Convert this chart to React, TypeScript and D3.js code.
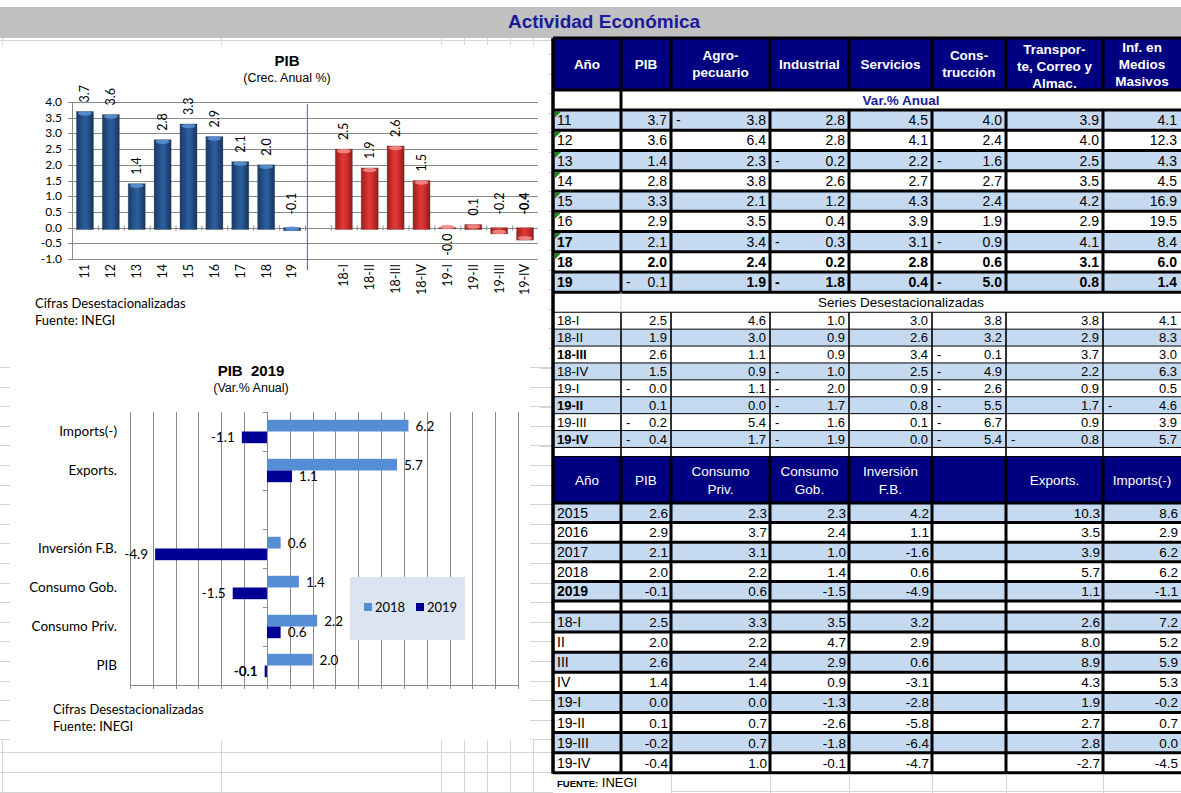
import React from 'react';
import * as d3 from 'd3';

// ---------------- DATA ----------------
const annualYears = ['11', '12', '13', '14', '15', '16', '17', '18', '19'];
const annualPIB = [3.7, 3.6, 1.4, 2.8, 3.3, 2.9, 2.1, 2.0, -0.1];
const quarterLabels = ['18-I', '18-II', '18-III', '18-IV', '19-I', '19-II', '19-III', '19-IV'];
const quarterPIB = [2.5, 1.9, 2.6, 1.5, -0.04, 0.1, -0.2, -0.4];

const compCategories = ['Imports(-)', 'Exports.', ' ', 'Inversión F.B.', 'Consumo Gob.', 'Consumo Priv.', 'PIB'];
const comp2018: (number | null)[] = [6.2, 5.7, null, 0.6, 1.4, 2.2, 2.0];
const comp2019: (number | null)[] = [-1.1, 1.1, null, -4.9, -1.5, 0.6, -0.1];
const compTicks = [-6, -5, -4, -3, -2, -1, 0, 1, 2, 3, 4, 5, 6, 7, 8, 9, 10, 11];
const pibTicks = [-1.0, -0.5, 0.0, 0.5, 1.0, 1.5, 2.0, 2.5, 3.0, 3.5, 4.0];

const sectorHeaders = [['Año'], ['PIB'], ['Agro-', 'pecuario'], ['Industrial'], ['Servicios'], ['Cons-', 'trucción'], ['Transpor-', 'te, Correo y', 'Almac.'], ['Inf. en', 'Medios', 'Masivos']];
const sectorYears = ['11', '12', '13', '14', '15', '16', '17', '18', '19'];
const sectorAnnual = [
  [3.7, -3.8, 2.8, 4.5, 4.0, 3.9, 4.1],
  [3.6, 6.4, 2.8, 4.1, 2.4, 4.0, 12.3],
  [1.4, 2.3, -0.2, 2.2, -1.6, 2.5, 4.3],
  [2.8, 3.8, 2.6, 2.7, 2.7, 3.5, 4.5],
  [3.3, 2.1, 1.2, 4.3, 2.4, 4.2, 16.9],
  [2.9, 3.5, 0.4, 3.9, 1.9, 2.9, 19.5],
  [2.1, 3.4, -0.3, 3.1, -0.9, 4.1, 8.4],
  [2.0, 2.4, 0.2, 2.8, 0.6, 3.1, 6.0],
  [-0.1, 1.9, -1.8, 0.4, -5.0, 0.8, 1.4],
];
const sectorQuarters = ['18-I', '18-II', '18-III', '18-IV', '19-I', '19-II', '19-III', '19-IV'];
const sectorQuarterly = [
  [2.5, 4.6, 1.0, 3.0, 3.8, 3.8, 4.1],
  [1.9, 3.0, 0.9, 2.6, 3.2, 2.9, 8.3],
  [2.6, 1.1, 0.9, 3.4, -0.1, 3.7, 3.0],
  [1.5, 0.9, -1.0, 2.5, -4.9, 2.2, 6.3],
  [-0.0, 1.1, -2.0, 0.9, -2.6, 0.9, 0.5],
  [0.1, 0.0, -1.7, 0.8, -5.5, 1.7, -4.6],
  [-0.2, 5.4, -1.6, 0.1, -6.7, 0.9, 3.9],
  [-0.4, 1.7, -1.9, 0.0, -5.4, -0.8, 5.7],
];
const demandHeaders = [['Año'], ['PIB'], ['Consumo', 'Priv.'], ['Consumo', 'Gob.'], ['Inversión', 'F.B.'], [], ['Exports.'], ['Imports(-)']];
const demandYears = ['2015', '2016', '2017', '2018', '2019'];
const demandAnnual: (number | null)[][] = [
  [2.6, 2.3, 2.3, 4.2, null, 10.3, 8.6],
  [2.9, 3.7, 2.4, 1.1, null, 3.5, 2.9],
  [2.1, 3.1, 1.0, -1.6, null, 3.9, 6.2],
  [2.0, 2.2, 1.4, 0.6, null, 5.7, 6.2],
  [-0.1, 0.6, -1.5, -4.9, null, 1.1, -1.1],
];
const demandQuarters = ['18-I', 'II', 'III', 'IV', '19-I', '19-II', '19-III', '19-IV'];
const demandQuarterly: (number | null)[][] = [
  [2.5, 3.3, 3.5, 3.2, null, 2.6, 7.2],
  [2.0, 2.2, 4.7, 2.9, null, 8.0, 5.2],
  [2.6, 2.4, 2.9, 0.6, null, 8.9, 5.9],
  [1.4, 1.4, 0.9, -3.1, null, 4.3, 5.3],
  [0.0, 0.0, -1.3, -2.8, null, 1.9, -0.2],
  [0.1, 0.7, -2.6, -5.8, null, 2.7, 0.7],
  [-0.2, 0.7, -1.8, -6.4, null, 2.8, 0.0],
  [-0.4, 1.0, -0.1, -4.7, null, -2.7, -4.5],
];

// ---------------- STYLE ----------------
const ARIAL = '"Liberation Sans", Arial, sans-serif';
const CALIBRI = 'Lato, "Open Sans", sans-serif';
const NAVY = '#000080';
const CELL_BLUE = '#c5d9f1';
const TITLE_BLUE = '#1a1a99';
const GRID_LIGHT = '#d4d4d4';
const colX = [553, 621, 671, 770, 849, 932, 1006, 1103, 1181];

function SheetGrid() {
  const els: React.ReactNode[] = [];
  const vx = [2, 221, 441, 464, 487, 510, 533];
  vx.forEach((x, i) => {
    els.push(<line key={'tv' + i} x1={x + 0.5} x2={x + 0.5} y1={38} y2={45} stroke={GRID_LIGHT} />);
    els.push(<line key={'bv' + i} x1={x + 0.5} x2={x + 0.5} y1={740} y2={793} stroke={GRID_LIGHT} />);
  });
  els.push(<line key="th" x1={0} x2={553} y1={40.5} y2={40.5} stroke={GRID_LIGHT} />);
  [752.5, 772.5, 792.5].forEach((y, i) => els.push(<line key={'bh' + i} x1={0} x2={553} y1={y} y2={y} stroke={GRID_LIGHT} />));
  for (let y = 54; y < 450; y += 19.6) {
    els.push(<line key={'rt' + y} x1={540} x2={553} y1={Math.round(y) + 0.5} y2={Math.round(y) + 0.5} stroke={GRID_LIGHT} />);
  }
  for (let y = 367; y < 745; y += 19.6) {
    els.push(<line key={'lt' + y} x1={0} x2={10} y1={Math.round(y) + 0.5} y2={Math.round(y) + 0.5} stroke={GRID_LIGHT} />);
    els.push(<line key={'rr' + y} x1={530} x2={553} y1={Math.round(y) + 0.5} y2={Math.round(y) + 0.5} stroke={GRID_LIGHT} />);
  }
  [671, 770, 849, 932, 1006, 1103].forEach((x, i) => els.push(<line key={'ft' + i} x1={x + 0.5} x2={x + 0.5} y1={775} y2={793} stroke={GRID_LIGHT} />));
  els.push(<line key="fh" x1={671} x2={1181} y1={791.5} y2={791.5} stroke={GRID_LIGHT} />);
  return <g>{els}</g>;
}

function TitleBar() {
  return (
    <g>
      <rect x={0} y={7} width={1181} height={31} fill="#c0c0c0" />
      <text x={604} y={28} textAnchor="middle" fontFamily={ARIAL} fontWeight="bold" fontSize={19} fill={TITLE_BLUE}>Actividad Económica</text>
    </g>
  );
}

function ChartPIB() {
  const cats = [...annualYears, ' ', ...quarterLabels];
  const x = d3.scaleBand().domain(cats).range([72, 538]).paddingInner(0.34).paddingOuter(0.17);
  const y = d3.scaleLinear().domain([-1, 4]).range([259, 102]);
  const bw = x.bandwidth();
  const step = x.step();
  const bars = [
    ...annualYears.map((c, i) => ({ c, v: annualPIB[i], q: false })),
    ...quarterLabels.map((c, i) => ({ c, v: quarterPIB[i], q: true })),
  ];
  const below = new Set(['19-I']);
  const boldLbl = new Set(['19-IV']);
  const y0 = y(0);
  return (
    <g>
      <rect x={4} y={45} width={544} height={305} fill="#fff" />
      <defs>
        <linearGradient id="gBlue" x1="0" x2="1" y1="0" y2="0">
          <stop offset="0" stopColor="#173a66" />
          <stop offset="0.4" stopColor="#285894" />
          <stop offset="0.55" stopColor="#2c5f9e" />
          <stop offset="1" stopColor="#15345c" />
        </linearGradient>
        <linearGradient id="gRed" x1="0" x2="1" y1="0" y2="0">
          <stop offset="0" stopColor="#9e1c1c" />
          <stop offset="0.45" stopColor="#de3a36" />
          <stop offset="0.6" stopColor="#d83330" />
          <stop offset="1" stopColor="#951a1a" />
        </linearGradient>
      </defs>
      <text x={287} y={66} textAnchor="middle" fontFamily={ARIAL} fontWeight="bold" fontSize={15}>PIB</text>
      <text x={287} y={82} textAnchor="middle" fontFamily={ARIAL} fontSize={12.5}>(Crec. Anual %)</text>
      {pibTicks.map((t) => (
        <g key={t}>
          <line x1={72} x2={538} y1={Math.round(y(t)) + 0.5} y2={Math.round(y(t)) + 0.5} stroke="#8a8a8a" />
          <line x1={68} x2={72} y1={Math.round(y(t)) + 0.5} y2={Math.round(y(t)) + 0.5} stroke="#8a8a8a" />
          <text x={62} y={y(t) + 4} textAnchor="end" fontFamily={CALIBRI} fontSize={12}>{t.toFixed(1)}</text>
        </g>
      ))}
      <line x1={72.5} x2={72.5} y1={y(4)} y2={y(-1)} stroke="#8a8a8a" />
      {cats.map((c, i) => (
        <line key={'zt' + i} x1={72 + step * i + 0.5} x2={72 + step * i + 0.5} y1={y0 - 2} y2={y0 + 3} stroke="#8a8a8a" />
      ))}
      <line x1={(x(' ') as number) - 2} x2={(x(' ') as number) - 2} y1={104} y2={270} stroke="#4f81bd" strokeWidth={1.2} />
      {bars.map((b) => {
        const cx = (x(b.c) as number) + bw / 2;
        const top = b.v >= 0 ? y(b.v) : y0;
        const bot = b.v >= 0 ? y0 + 2 : y(b.v);
        const cap = b.v >= 0 ? y(b.v) + 2 : y(b.v) - 2;
        const lbl = b.v.toFixed(1);
        const isBelow = below.has(b.c);
        const lblY = isBelow ? y0 + 6 : (b.v >= 0 ? y(b.v) - 9 : y0 - 13);
        return (
          <g key={b.c}>
            <rect x={cx - bw / 2} y={top} width={bw} height={Math.max(1, bot - top)} fill={b.q ? 'url(#gRed)' : 'url(#gBlue)'} stroke="#4a4a4a" strokeOpacity={0.35} strokeWidth={0.8} />
            <ellipse cx={cx} cy={cap} rx={bw / 2 - 1.5} ry={2.2} fill={b.q ? '#ef8a86' : '#5a8fd0'} opacity={0.9} />
            <text transform={`translate(${cx},${lblY}) rotate(-90)`} dy="0.35em" textAnchor={isBelow ? 'end' : 'start'} fontFamily={CALIBRI} fontSize={12.5} fontWeight={boldLbl.has(b.c) ? 'bold' : 'normal'}>{lbl}</text>
          </g>
        );
      })}
      {cats.filter((c) => c !== ' ').map((c) => (
        <text key={'xl' + c} transform={`translate(${(x(c) as number) + bw / 2},264) rotate(-90)`} dy="0.35em" textAnchor="end" fontFamily={CALIBRI} fontSize={12.5}>{c}</text>
      ))}
      <text x={35} y={308} fontFamily={CALIBRI} fontSize={13}>Cifras Desestacionalizadas</text>
      <text x={35} y={325} fontFamily={CALIBRI} fontSize={13}>Fuente: INEGI</text>
    </g>
  );
}

function ChartComp() {
  const x = d3.scaleLinear().domain([-6, 11]).range([130, 518]);
  const y = d3.scaleBand().domain(compCategories).range([412, 685]).paddingInner(0.4).paddingOuter(0.2);
  const bh = y.bandwidth() / 2;
  const step = y.step();
  const x0 = x(0);
  const c18 = '#558ed5';
  const c19 = '#000094';
  const label = (v: number, yy: number, bold: boolean, key: string) => (
    <text key={key} x={v >= 0 ? x(v) + 7 : x(v) - 7} y={yy + 5} textAnchor={v >= 0 ? 'start' : 'end'} fontFamily={CALIBRI} fontSize={13.5} fontWeight={bold ? 'bold' : 'normal'}>{v.toFixed(1)}</text>
  );
  return (
    <g>
      <rect x={11} y={356} width={519} height={384} fill="#fff" />
      <text x={251} y={376} textAnchor="middle" fontFamily={ARIAL} fontWeight="bold" fontSize={15} style={{ whiteSpace: 'pre' }}>{'PIB  2019'}</text>
      <text x={251} y={392} textAnchor="middle" fontFamily={ARIAL} fontSize={12.5}>(Var.% Anual)</text>
      {compTicks.map((t) => (
        <g key={t}>
          <line x1={Math.round(x(t)) + 0.5} x2={Math.round(x(t)) + 0.5} y1={412} y2={685} stroke="#8c8c8c" />
          <line x1={Math.round(x(t)) + 0.5} x2={Math.round(x(t)) + 0.5} y1={685} y2={689} stroke="#8c8c8c" />
        </g>
      ))}
      <line x1={130} x2={518} y1={685.5} y2={685.5} stroke="#8c8c8c" />
      {compCategories.map((c, i) => (
        <line key={'yt' + i} x1={x0 - 4} x2={x0} y1={412 + step * i + 0.5} y2={412 + step * i + 0.5} stroke="#8c8c8c" />
      ))}
      {compCategories.map((c, i) => {
        const yy = y(c) as number;
        const a = comp2018[i];
        const b = comp2019[i];
        return (
          <g key={c}>
            <text x={117} y={yy + bh + 4.5} textAnchor="end" fontFamily={CALIBRI} fontSize={13.5}>{c}</text>
            {a !== null && <rect x={Math.min(x(a), x0)} y={yy} width={Math.abs(x(a) - x0)} height={bh} fill={c18} />}
            {b !== null && <rect x={Math.min(x(b), x0)} y={yy + bh} width={Math.abs(x(b) - x0)} height={bh} fill={c19} />}
            {a !== null && label(a, yy + bh / 2, false, 'la' + i)}
            {b !== null && label(b, yy + bh * 1.5, c === 'PIB', 'lb' + i)}
          </g>
        );
      })}
      <rect x={350} y={577} width={115} height={63} fill="#dbe5f1" />
      <rect x={364} y={603} width={8} height={8} fill={c18} />
      <text x={375} y={611.5} fontFamily={CALIBRI} fontSize={13}>2018</text>
      <rect x={416} y={603} width={8} height={8} fill={c19} />
      <text x={427} y={611.5} fontFamily={CALIBRI} fontSize={13}>2019</text>
      <text x={53} y={714} fontFamily={CALIBRI} fontSize={13}>Cifras Desestacionalizadas</text>
      <text x={53} y={731} fontFamily={CALIBRI} fontSize={13}>Fuente: INEGI</text>
    </g>
  );
}

function AcctCell({ x0, x1, y, v, bold, size }: { x0: number; x1: number; y: number; v: number; bold: boolean; size: number }) {
  const neg = v < 0 || Object.is(v, -0);
  return (
    <g fontWeight={bold ? 'bold' : 'normal'} fontSize={size}>
      {neg && <text x={x0 + 5} y={y}>-</text>}
      <text x={x1 - 4} y={y} textAnchor="end">{Math.abs(v).toFixed(1)}</text>
    </g>
  );
}

function TopTable() {
  const hTop = 38, hBot = 90, varBot = 110;
  const rowH = 20.25;
  const annBot = varBot + rowH * sectorYears.length;
  const serBot = annBot + 20;
  const qH = 16.9;
  const qBot = serBot + qH * sectorQuarters.length;
  const endBot = qBot + 9;
  const boldLabels = new Set(['17', '18', '19', '18-III', '19-II', '19-IV']);
  const triangles = new Set(['11', '12', '13', '14', '15', '16', '17', '18']);
  const lines: React.ReactNode[] = [];
  const full = (yv: number, w: number, k: string) => lines.push(<line key={k} x1={553} x2={1181} y1={yv} y2={yv} stroke="#000" strokeWidth={w} />);
  full(hTop, 3, 'h0'); full(hBot, 3, 'h1'); full(varBot, 3, 'h2');
  sectorYears.forEach((_, i) => full(varBot + rowH * (i + 1), 3, 'hr' + i));
  for (let i = 0; i <= sectorQuarters.length; i++) full(serBot + qH * i, 1, 'hq' + i);
  full(endBot + 1, 3, 'he');
  colX.slice(1, 8).forEach((cx, j) => {
    lines.push(<line key={'vh' + j} x1={cx} x2={cx} y1={hTop} y2={hBot} stroke="#000" strokeWidth={3} />);
    if (j === 0) lines.push(<line key={'vv' + j} x1={cx} x2={cx} y1={hBot} y2={varBot} stroke="#000" strokeWidth={3} />);
    lines.push(<line key={'va' + j} x1={cx} x2={cx} y1={varBot} y2={annBot} stroke="#000" strokeWidth={3} />);
    lines.push(<line key={'vq' + j} x1={cx} x2={cx} y1={serBot} y2={endBot} stroke="#000" strokeWidth={1.6} />);
  });
  lines.push(<line key="vs" x1={621} x2={621} y1={annBot} y2={serBot} stroke={GRID_LIGHT} />);
  return (
    <g fontFamily={ARIAL}>
      <rect x={553} y={hTop} width={628} height={hBot - hTop} fill={NAVY} />
      {sectorHeaders.map((lns, j) => {
        const cx = (colX[j] + colX[j + 1]) / 2;
        const pitch = 17;
        const center = j === 6 ? 66 : 64;
        return lns.map((t, k) => (
          <text key={j + '-' + k} x={cx} y={center + (k - (lns.length - 1) / 2) * pitch} dy="0.35em" textAnchor="middle" fill="#fff" fontWeight="bold" fontSize={13.5}>{t}</text>
        ));
      })}
      <text x={901} y={100} dy="0.35em" textAnchor="middle" fill={TITLE_BLUE} fontWeight="bold" fontSize={13.5}>Var.% Anual</text>
      {sectorYears.map((yr, i) => {
        const top = varBot + rowH * i;
        const yc = top + rowH / 2 + 5;
        const blue = i % 2 === 0;
        return (
          <g key={yr}>
            {blue && <rect x={553} y={top} width={628} height={rowH} fill={CELL_BLUE} />}
            {triangles.has(yr) && <path d={`M${555},${top + 1.5} h6 L${555},${top + 7.5} Z`} fill="#128a12" />}
            <text x={557} y={yc} fontSize={14} fontWeight={boldLabels.has(yr) ? 'bold' : 'normal'}>{yr}</text>
            {sectorAnnual[i].map((v, j) => (
              <AcctCell key={j} x0={colX[j + 1]} x1={colX[j + 2]} y={yc} v={v} size={14} bold={yr === '18' || (yr === '19' && j > 0)} />
            ))}
          </g>
        );
      })}
      <text x={901} y={annBot + 10} dy="0.35em" textAnchor="middle" fontSize={13.5}>Series Desestacionalizadas</text>
      {sectorQuarters.map((q, i) => {
        const top = serBot + qH * i;
        const yc = top + qH / 2 + 4.5;
        const blue = i % 2 === 1;
        return (
          <g key={q}>
            {blue && <rect x={553} y={top} width={628} height={qH} fill={CELL_BLUE} />}
            <text x={557} y={yc} fontSize={13} fontWeight={boldLabels.has(q) ? 'bold' : 'normal'}>{q}</text>
            {sectorQuarterly[i].map((v, j) => (
              <AcctCell key={j} x0={colX[j + 1]} x1={colX[j + 2]} y={yc} v={v} size={13} bold={false} />
            ))}
          </g>
        );
      })}
      {lines}
    </g>
  );
}

function BottomTable() {
  const hTop = 457, hBot = 503;
  const rowH = 19.6;
  const annBot = hBot + rowH * demandYears.length;
  const gapBot = annBot + 11;
  const qH = 20.1;
  const qBot = gapBot + qH * demandQuarters.length;
  const lines: React.ReactNode[] = [];
  const full = (yv: number, k: string) => lines.push(<line key={k} x1={553} x2={1181} y1={yv} y2={yv} stroke="#000" strokeWidth={3} />);
  full(hBot, 'b0');
  demandYears.forEach((_, i) => full(hBot + rowH * (i + 1), 'br' + i));
  for (let i = 0; i <= demandQuarters.length; i++) full(gapBot + qH * i, 'bq' + i);
  colX.slice(1, 8).forEach((cx, j) => lines.push(<line key={'bv' + j} x1={cx} x2={cx} y1={hTop} y2={qBot} stroke="#000" strokeWidth={3} />));
  const cell = (v: number | null, j: number, yc: number, k: string) =>
    v === null ? null : <text key={k} x={colX[j + 2] - 3} y={yc} textAnchor="end" fontSize={13.5}>{v.toFixed(1)}</text>;
  return (
    <g fontFamily={ARIAL}>
      <rect x={553} y={hTop} width={628} height={hBot - hTop} fill={NAVY} />
      {demandHeaders.map((lns, j) => {
        const cx = (colX[j] + colX[j + 1]) / 2;
        return lns.map((t, k) => (
          <text key={j + '-' + k} x={cx} y={480 + (k - (lns.length - 1) / 2) * 18} dy="0.35em" textAnchor="middle" fill="#fff" fontSize={13.5}>{t}</text>
        ));
      })}
      {demandYears.map((yr, i) => {
        const top = hBot + rowH * i;
        const yc = top + rowH / 2 + 5;
        return (
          <g key={yr}>
            {i % 2 === 0 && <rect x={553} y={top} width={628} height={rowH} fill={CELL_BLUE} />}
            <text x={557} y={yc} fontSize={14} fontWeight={yr === '2019' ? 'bold' : 'normal'}>{yr}</text>
            {demandAnnual[i].map((v, j) => cell(v, j, yc, 'c' + j))}
          </g>
        );
      })}
      {demandQuarters.map((q, i) => {
        const top = gapBot + qH * i;
        const yc = top + qH / 2 + 5;
        return (
          <g key={q}>
            {i % 2 === 0 && <rect x={553} y={top} width={628} height={qH} fill={CELL_BLUE} />}
            <text x={557} y={yc} fontSize={14}>{q}</text>
            {demandQuarterly[i].map((v, j) => cell(v, j, yc, 'c' + j))}
          </g>
        );
      })}
      {lines}
      <line x1={553} x2={553} y1={38} y2={qBot + 1} stroke="#000" strokeWidth={3.5} />
      <text x={557} y={787}><tspan fontWeight="bold" fontSize={9.5}>FUENTE:</tspan><tspan fontSize={13}> INEGI</tspan></text>
    </g>
  );
}

export default function App() {
  return (
    <svg width={1181} height={793} style={{ position: 'absolute', left: 0, top: 0, background: '#fff' }}>
      <rect width={1181} height={793} fill="#fff" />
      <SheetGrid />
      <TitleBar />
      <ChartPIB />
      <ChartComp />
      <TopTable />
      <BottomTable />
    </svg>
  );
}
